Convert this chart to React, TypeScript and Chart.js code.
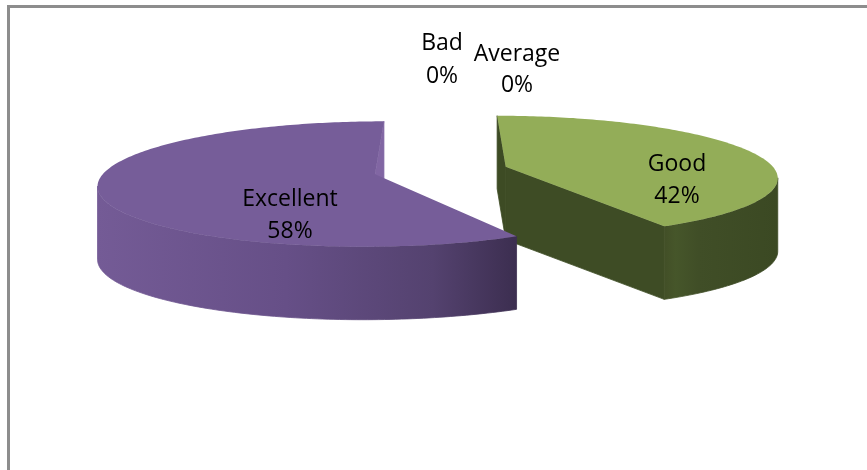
import { useEffect, useRef } from 'react';
import { Chart, registerables } from 'chart.js';

Chart.register(...registerables);

// Survey answers and their shares (percent)
const categories = ['Bad', 'Average', 'Good', 'Excellent'];
const shares = [0, 0, 42, 58];

// Fill styles per slice
const topColors = ['#C0504D', '#4BACC6', '#93AD58', '#765D99'];
const startFaceColors = ['#8C3B38', '#37808F', '#3D4B24', '#5E4A7D'];
const endFaceColors = ['#8C3B38', '#37808F', '#3E4C25', '#8166A3'];
const wallStops: [number, string][][] = [
  [[0, '#8C3B38'], [1, '#8C3B38']],
  [[0, '#37808F'], [1, '#37808F']],
  [[0, '#424F27'], [0.1, '#46562A'], [0.3, '#404E27'], [1, '#3B4923']],
  [[0, '#745B96'], [0.45, '#664F87'], [0.8, '#54426F'], [1, '#3C2E50']],
];

// Label placement: centre x and baselines of the name and percent lines
const labelSpots = [
  { x: 442, y1: 50, y2: 83 },
  { x: 517, y1: 61, y2: 92 },
  { x: 677, y1: 171, y2: 203 },
  { x: 290, y1: 206, y2: 238 },
];

// 3D view of the pie: horizontal stretch, vertical tilt, perspective, extrusion depth and explosion
const VIEW = { stretch: 1.582, squash: 0.352, perspective: 0.154, depth: 73, explode: 0.25 };

type Slice = { i: number; x: number; y: number; R: number; a0: number; a1: number; ox: number; oz: number };

function project(s: Slice, X: number, Z: number): [number, number] {
  const w = 1 - VIEW.perspective * Z;
  return [s.x + (s.R * VIEW.stretch * X) / w, s.y + (s.R * VIEW.squash * Z) / w];
}

function drawSlice(ctx: CanvasRenderingContext2D, s: Slice) {
  const D = VIEW.depth;
  const apex = project(s, s.ox, s.oz);
  const steps = Math.max(8, Math.ceil(((s.a1 - s.a0) * 180) / Math.PI));
  const tops: [number, number][] = [];
  for (let k = 0; k <= steps; k++) {
    const a = s.a0 + ((s.a1 - s.a0) * k) / steps;
    tops.push(project(s, s.ox + Math.cos(a), s.oz + Math.sin(a)));
  }

  const face = (p: [number, number], fill: string) => {
    ctx.beginPath();
    ctx.moveTo(apex[0], apex[1]);
    ctx.lineTo(p[0], p[1]);
    ctx.lineTo(p[0], p[1] + D);
    ctx.lineTo(apex[0], apex[1] + D);
    ctx.closePath();
    ctx.fillStyle = fill;
    ctx.strokeStyle = fill;
    ctx.lineWidth = 0.8;
    ctx.fill();
    ctx.stroke();
  };
  const p0 = tops[0];
  const p1 = tops[tops.length - 1];
  if (p0[0] < apex[0]) face(p0, startFaceColors[s.i]);
  if (p1[0] > apex[0]) face(p1, endFaceColors[s.i]);

  // outer wall, only the parts turned toward the viewer
  let run: [number, number][] = [];
  const flush = () => {
    if (run.length > 1) {
      const xs = run.map((p) => p[0]);
      const minX = Math.min(...xs);
      const maxX = Math.max(...xs);
      const g = ctx.createLinearGradient(minX, 0, maxX, 0);
      for (const [o, c] of wallStops[s.i]) g.addColorStop(o, c);
      ctx.beginPath();
      ctx.moveTo(run[0][0], run[0][1]);
      for (const p of run) ctx.lineTo(p[0], p[1]);
      for (let k = run.length - 1; k >= 0; k--) ctx.lineTo(run[k][0], run[k][1] + D);
      ctx.closePath();
      ctx.fillStyle = g;
      ctx.strokeStyle = g;
      ctx.lineWidth = 0.8;
      ctx.fill();
      ctx.stroke();
    }
    run = [];
  };
  for (let k = 0; k < steps; k++) {
    if (tops[k + 1][0] < tops[k][0]) {
      if (!run.length) run.push(tops[k]);
      run.push(tops[k + 1]);
    } else {
      flush();
    }
  }
  flush();

  // top surface
  ctx.beginPath();
  ctx.moveTo(apex[0], apex[1]);
  for (const p of tops) ctx.lineTo(p[0], p[1]);
  ctx.closePath();
  ctx.fillStyle = topColors[s.i];
  ctx.fill();
}

const pie3d = {
  id: 'pie3d',
  beforeDatasetsDraw(chart: any) {
    const ctx: CanvasRenderingContext2D = chart.ctx;
    const meta = chart.getDatasetMeta(0);
    const slices: Slice[] = [];
    meta.data.forEach((el: any, i: number) => {
      const { x, y, startAngle, endAngle, outerRadius } = el.getProps(
        ['x', 'y', 'startAngle', 'endAngle', 'outerRadius'],
        true
      );
      if (endAngle - startAngle <= 0) return;
      const mid = (startAngle + endAngle) / 2;
      slices.push({
        i, x, y, R: outerRadius, a0: startAngle, a1: endAngle,
        ox: VIEW.explode * Math.cos(mid),
        oz: VIEW.explode * Math.sin(mid),
      });
    });
    slices.sort((p, q) => p.oz - q.oz);
    ctx.save();
    for (const s of slices) drawSlice(ctx, s);
    ctx.restore();
    return false;
  },
  afterDraw(chart: any) {
    const ctx: CanvasRenderingContext2D = chart.ctx;
    const total = shares.reduce((a, b) => a + b, 0);
    ctx.save();
    ctx.fillStyle = '#000000';
    ctx.font = '23px "Open Sans", sans-serif';
    ctx.textAlign = 'center';
    ctx.textBaseline = 'alphabetic';
    categories.forEach((name, i) => {
      const spot = labelSpots[i];
      const pct = Math.round((shares[i] / total) * 100) + '%';
      ctx.fillText(name, spot.x, spot.y1);
      ctx.fillText(pct, spot.x, spot.y2);
    });
    ctx.restore();
  },
};

export default function App() {
  const canvasRef = useRef<HTMLCanvasElement | null>(null);

  useEffect(() => {
    const canvas = canvasRef.current;
    if (!canvas) return;
    const chart = new Chart(canvas, {
      type: 'pie',
      data: {
        labels: categories,
        datasets: [{ data: shares, backgroundColor: topColors, borderWidth: 0 }],
      },
      options: {
        responsive: false,
        animation: false,
        devicePixelRatio: 1,
        events: [],
        layout: { padding: { left: 15, right: 0, top: 0, bottom: 129 } },
        plugins: { legend: { display: false }, tooltip: { enabled: false } },
      },
      plugins: [pie3d],
    });
    return () => chart.destroy();
  }, []);

  return (
    <div
      style={{
        position: 'absolute',
        left: 0,
        top: 0,
        width: 867,
        height: 470,
        background: '#ffffff',
        overflow: 'hidden',
      }}
    >
      <div
        style={{
          position: 'absolute',
          left: 7,
          top: 5,
          width: 880,
          height: 480,
          borderTop: '3px solid #8d8d8d',
          borderLeft: '3px solid #8d8d8d',
        }}
      />
      <canvas
        ref={canvasRef}
        width={867}
        height={470}
        style={{ position: 'absolute', left: 0, top: 0, width: 867, height: 470 }}
      />
    </div>
  );
}
